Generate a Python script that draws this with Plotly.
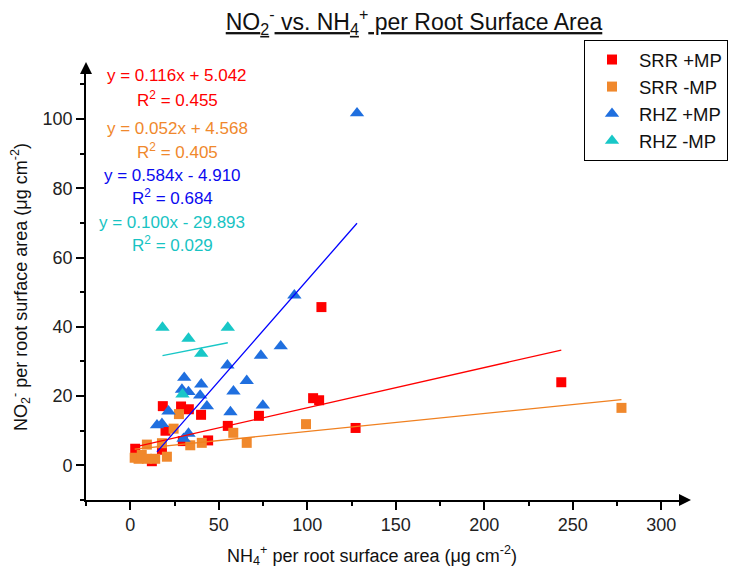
import plotly.graph_objects as go

# ---------------- data ----------------
srr_mp_plus_x = [2.8, 12.2, 17.9, 19.9, 18.4, 28.7, 33.1, 40.0, 29.7, 44.0, 55.1, 72.7, 103.3, 106.7, 108.0, 127.3, 243.5]
srr_mp_plus_y = [4.8, 1.2, 4.5, 10.0, 17.1, 17.0, 16.2, 14.6, 7.0, 7.2, 11.4, 14.3, 19.4, 18.8, 45.7, 10.8, 24.0]

srr_mp_minus_x = [2.5, 4.7, 6.5, 9.4, 9.4, 14.1, 17.9, 20.7, 24.5, 27.5, 33.9, 40.4, 58.2, 65.8, 99.3, 277.5]
srr_mp_minus_y = [2.2, 1.9, 3.0, 1.9, 6.0, 1.9, 6.4, 2.5, 10.6, 14.8, 5.8, 6.5, 9.4, 6.5, 11.9, 16.6]

rhz_mp_plus_x = [15.1, 17.9, 21.6, 30.1, 32.9, 30.5, 29.2, 32.9, 40.1, 39.5, 43.3, 54.9, 58.3, 56.6, 65.8, 73.8, 74.9, 85.0, 92.7, 128.1]
rhz_mp_plus_y = [11.6, 12.0, 15.6, 7.7, 9.2, 25.3, 21.9, 21.2, 23.4, 20.2, 17.1, 28.9, 21.4, 15.4, 24.4, 31.7, 17.3, 34.4, 49.1, 101.7]

rhz_mp_minus_x = [18.2, 29.5, 32.9, 40.1, 55.1]
rhz_mp_minus_y = [39.8, 20.5, 36.6, 32.3, 39.8]

series_names = ["SRR +MP", "SRR -MP", "RHZ +MP", "RHZ -MP"]

# linear fits (slope, intercept); the cyan line is drawn at +29.893 in the reference
fit_slope = [0.116, 0.052, 0.584, 0.100]
fit_intercept = [5.042, 4.568, -4.910, 29.893]
eq_labels = ["y = 0.116x + 5.042", "y = 0.052x + 4.568", "y = 0.584x - 4.910", "y = 0.100x - 29.893"]
r2_labels = ["R<sup>2</sup> = 0.455", "R<sup>2</sup> = 0.405", "R<sup>2</sup> = 0.684", "R<sup>2</sup> = 0.029"]

x_ticks = [0, 50, 100, 150, 200, 250, 300]
y_ticks = [0, 20, 40, 60, 80, 100]

# ---------------- styling ----------------
marker_colors = ["#FF0000", "#F0882C", "#1F6FDF", "#18C7C7"]
line_colors = ["#FF0000", "#F08020", "#0000FF", "#18C7C7"]
text_colors = ["#FF0000", "#F0882C", "#0A0AF0", "#18C3C3"]
symbols = ["square", "square", "triangle-up", "triangle-up"]
sizes = [10, 10, 12.5, 12.5]
FONT = "Arial, Liberation Sans, sans-serif"

xs_all = [srr_mp_plus_x, srr_mp_minus_x, rhz_mp_plus_x, rhz_mp_minus_x]
ys_all = [srr_mp_plus_y, srr_mp_minus_y, rhz_mp_plus_y, rhz_mp_minus_y]

fig = go.Figure()
for i in range(4):
    fig.add_trace(go.Scatter(
        x=xs_all[i], y=ys_all[i], mode="markers", name=series_names[i],
        marker=dict(symbol=symbols[i], size=sizes[i], color=marker_colors[i], line=dict(width=0)),
        cliponaxis=False,
    ))
for i in range(4):
    xl = [min(xs_all[i]), max(xs_all[i])]
    yl = [fit_slope[i] * v + fit_intercept[i] for v in xl]
    fig.add_trace(go.Scatter(x=xl, y=yl, mode="lines", showlegend=False,
                             line=dict(color=line_colors[i], width=1.3), hoverinfo="skip"))

# plot-area geometry (pixels)
L, R, T, B = 86, 679, 74, 500
W, H = R - L, B - T


def pxx(px):
    return (px - L) / W


def pxy(py):
    return (B - py) / H


annotations = []
eq_pos = [(177, 76), (177, 128), (172, 175), (172, 222)]
r2_pos = [(177, 99), (177, 151), (172, 197), (172, 244)]
for i in range(4):
    annotations.append(dict(x=pxx(eq_pos[i][0]), y=pxy(eq_pos[i][1]), xref="paper", yref="paper",
                            text=eq_labels[i], showarrow=False, xanchor="center", yanchor="middle",
                            font=dict(family=FONT, size=17, color=text_colors[i])))
    annotations.append(dict(x=pxx(r2_pos[i][0]), y=pxy(r2_pos[i][1]), xref="paper", yref="paper",
                            text=r2_labels[i], showarrow=False, xanchor="center", yanchor="middle",
                            font=dict(family=FONT, size=17, color=text_colors[i])))

annotations.append(dict(x=pxx(372), y=pxy(555), xref="paper", yref="paper",
                        text="NH<sub>4</sub><sup>+</sup> per root surface area (μg cm<sup>-2</sup>)",
                        showarrow=False, xanchor="center", yanchor="middle",
                        font=dict(family=FONT, size=18, color="#111")))
annotations.append(dict(x=pxx(20), y=pxy(287), xref="paper", yref="paper", textangle=-90,
                        text="NO<sub>2</sub><sup>-</sup> per root surface area (μg cm<sup>-2</sup>)",
                        showarrow=False, xanchor="center", yanchor="middle",
                        font=dict(family=FONT, size=18, color="#111")))

shapes = [
    dict(type="path", xref="paper", yref="paper", fillcolor="black", line=dict(width=0),
         path=f"M {pxx(679)},{6/H} L {pxx(691)},0 L {pxx(679)},{-6/H} Z"),
    dict(type="path", xref="paper", yref="paper", fillcolor="black", line=dict(width=0),
         path=f"M {-6/W},1 L 0,{pxy(62)} L {6/W},1 Z"),
]

axis_common = dict(showline=True, linecolor="black", linewidth=1.6, ticks="outside", ticklen=8,
                   tickwidth=1.5, tickcolor="black", showgrid=False, zeroline=False,
                   tickfont=dict(family=FONT, size=18, color="#222"))

title_text = ("<u>NO</u><sub><u>2</u></sub><sup>-</sup><u> vs. NH</u><sub><u>4</u></sub>"
              "<sup>+</sup><u> per Root Surface Area</u>")

fig.update_layout(
    width=736, height=569,
    margin=dict(l=L, r=736 - R, t=T, b=569 - B, pad=0, autoexpand=False),
    plot_bgcolor="white", paper_bgcolor="white",
    title=dict(text=title_text,
               x=414 / 736, xref="container", xanchor="center",
               y=1 - 22 / 569, yref="container", yanchor="middle",
               font=dict(family=FONT, size=23, color="#111")),
    xaxis=dict(range=[-25, 310], tickvals=x_ticks,
               minor=dict(ticks="outside", ticklen=4, tickwidth=1.5, tickcolor="black", dtick=25, tick0=0),
               **axis_common),
    yaxis=dict(range=[-10, 113], tickvals=y_ticks,
               minor=dict(ticks="outside", ticklen=4, tickwidth=1.5, tickcolor="black", dtick=10, tick0=0),
               **axis_common),
    legend=dict(x=pxx(584), y=pxy(40), xanchor="left", yanchor="top", bgcolor="white",
                bordercolor="black", borderwidth=1, itemwidth=44,
                font=dict(family=FONT, size=18.5, color="#111")),
    annotations=annotations,
    shapes=shapes,
    showlegend=True,
)

fig.write_html("out.html", config={"displayModeBar": False},
               post_script="document.body.style.margin='0px';document.body.style.overflow='hidden';")
